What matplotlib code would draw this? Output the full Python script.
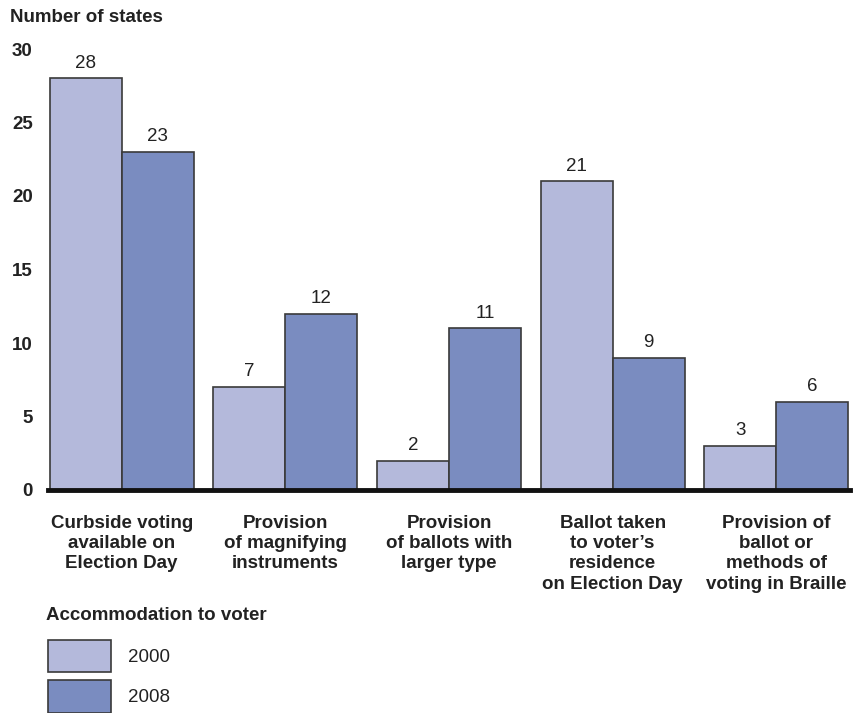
import matplotlib.pyplot as plt
import numpy as np

categories = ["Curbside voting\navailable on\nElection Day",
              "Provision\nof magnifying\ninstruments",
              "Provision\nof ballots with\nlarger type",
              "Ballot taken\nto voter\u2019s\nresidence\non Election Day",
              "Provision of\nballot or\nmethods of\nvoting in Braille"]
years = ["2000", "2008"]
values_2000 = [28, 7, 2, 21, 3]
values_2008 = [23, 12, 11, 9, 6]
yticks = [0, 5, 10, 15, 20, 25, 30]

c2000 = "#b4b9db"
c2008 = "#7a8cc0"
edge = "#3a3a3a"
txt = "#222222"
fs = 13.5

plt.rcParams['font.family'] = ['Liberation Sans', 'DejaVu Sans']

fig = plt.figure(figsize=(8.65, 7.13), dpi=100)
ax = fig.add_axes([48/865, (713-490)/713, (850-48)/865, (490-49)/713])

x = np.arange(len(categories))
w = 0.44
b1 = ax.bar(x - w/2, values_2000, w, color=c2000, edgecolor=edge, linewidth=1.2, label=years[0])
b2 = ax.bar(x + w/2, values_2008, w, color=c2008, edgecolor=edge, linewidth=1.2, label=years[1])

for bars, vals in ((b1, values_2000), (b2, values_2008)):
    for rect, v in zip(bars, vals):
        ax.text(rect.get_x() + rect.get_width()/2, v + 0.45, str(v),
                ha='center', va='bottom', fontsize=fs, color=txt)

ax.set_xlim(-0.45, 4.45)
ax.set_ylim(0, 30)
ax.set_yticks(yticks)
ax.set_yticklabels([str(t) for t in yticks], fontsize=fs, fontweight='bold', color=txt)
ax.tick_params(axis='y', length=0, pad=11)
ax.set_xticks(x)
ax.set_xticklabels(categories, fontsize=fs, fontweight='bold', color=txt, linespacing=1.25)
ax.tick_params(axis='x', length=0, pad=18)
for s in ['top', 'right', 'left']:
    ax.spines[s].set_visible(False)
ax.spines['bottom'].set_linewidth(3.5)
ax.spines['bottom'].set_color('#111111')

fig.text(10/865, 1 - 17/713, "Number of states", fontsize=fs, fontweight='bold',
         color=txt, va='center', ha='left')

fig.text(46/865, 1 - 616/713, "Accommodation to voter", fontsize=fs, fontweight='bold',
         color=txt, va='center', ha='left')

leg = fig.legend(handles=[b1, b2], labels=years, loc='upper left',
                 bbox_to_anchor=(40/865, 1 - 632/713), frameon=False,
                 fontsize=fs, handlelength=3.4, handleheight=2.3,
                 labelspacing=0.42, handletextpad=0.9, borderaxespad=0)
for t in leg.get_texts():
    t.set_color(txt)

fig.savefig("out.png", dpi=100)
